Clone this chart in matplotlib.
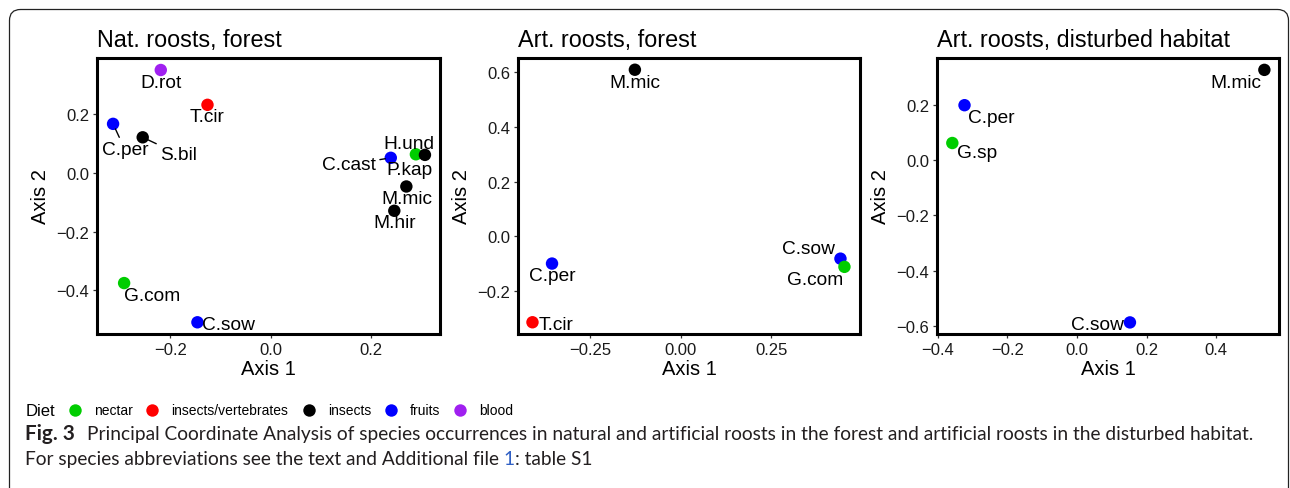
import matplotlib
matplotlib.use("Agg")
import matplotlib.pyplot as plt
from matplotlib.patches import FancyBboxPatch
from matplotlib.ticker import FuncFormatter

# ---------------- data ----------------
diet_levels = ["nectar", "insects/vertebrates", "insects", "fruits", "blood"]

p1_species = ["D.rot", "T.cir", "C.per", "S.bil", "C.cast", "H.und", "P.kap",
              "M.mic", "M.hir", "G.com", "C.sow"]
p1_x = [-0.219, -0.126, -0.314, -0.255, 0.239, 0.289, 0.307, 0.270, 0.246, -0.292, -0.146]
p1_y = [0.352, 0.233, 0.168, 0.122, 0.052, 0.064, 0.062, -0.046, -0.129, -0.376, -0.510]
p1_diet = ["blood", "insects/vertebrates", "fruits", "insects", "fruits", "nectar",
           "insects", "insects", "insects", "nectar", "fruits"]

p2_species = ["M.mic", "C.per", "T.cir", "C.sow", "G.com"]
p2_x = [-0.127, -0.356, -0.410, 0.441, 0.452]
p2_y = [0.610, -0.100, -0.315, -0.082, -0.112]
p2_diet = ["insects", "fruits", "insects/vertebrates", "fruits", "nectar"]

p3_species = ["M.mic", "C.per", "G.sp", "C.sow"]
p3_x = [0.538, -0.323, -0.358, 0.152]
p3_y = [0.327, 0.199, 0.062, -0.588]
p3_diet = ["insects", "fruits", "nectar", "fruits"]

titles = ["Nat. roosts, forest", "Art. roosts, forest", "Art. roosts, disturbed habitat"]
x_ticks = [[-0.2, 0.0, 0.2], [-0.25, 0.0, 0.25], [-0.4, -0.2, 0.0, 0.2, 0.4]]
y_ticks = [[-0.4, -0.2, 0.0, 0.2], [-0.2, 0.0, 0.2, 0.4, 0.6], [-0.6, -0.4, -0.2, 0.0, 0.2]]
x_fmt = ["%.1f", "%.2f", "%.1f"]

caption_bold = "Fig. 3"
caption_line1 = ("Principal Coordinate Analysis of species occurrences in natural and artificial "
                 "roosts in the forest and artificial roosts in the disturbed habitat.")
caption_line2 = ["For species abbreviations see the text and Additional file ", "1", ": table S1"]

# ---------------- styles ----------------
diet_colors = {"nectar": "#00CD00", "insects/vertebrates": "#FF0000", "insects": "#000000",
               "fruits": "#0000FF", "blood": "#A020F0"}

# label offsets in pixels (dx right, dy down) and whether a segment is drawn
p1_off = {"D.rot": (0, 12), "T.cir": (0, 12), "C.per": (12, 26, True), "S.bil": (36, 17, True),
          "C.cast": (-42, 7, True), "H.und": (-7, -11), "P.kap": (-15, 15),
          "M.mic": (1, 12), "M.hir": (0, 12), "G.com": (28, 12), "C.sow": (31, 2)}
p2_off = {"M.mic": (0, 12.5), "C.per": (0, 12), "T.cir": (24, 2), "C.sow": (-32, -10),
          "G.com": (-29, 12.5)}
p3_off = {"M.mic": (-28, 12.5), "C.per": (27, 12), "G.sp": (25, 9), "C.sow": (-33, 2)}

xlims = [(-0.346, 0.337), (-0.450, 0.495), (-0.402, 0.580)]
ylims = [(-0.550, 0.393), (-0.358, 0.653), (-0.630, 0.370)]

W, H = 1290, 489
DPI = 100
plt.rcParams["font.family"] = ["Liberation Sans", "DejaVu Sans"]


def minus_fmt(fmt):
    def f(v, pos):
        s = fmt % v
        if s.startswith("-") and float(s) == 0:
            s = s[1:]
        return s.replace("-", "\u2212")
    return FuncFormatter(f)


fig = plt.figure(figsize=(W / DPI, H / DPI), dpi=DPI)

# border around the figure
over = fig.add_axes([0, 0, 1, 1])
over.set_xlim(0, W)
over.set_ylim(H, 0)
over.axis("off")
over.add_patch(FancyBboxPatch((9.5, 10.5), 1279, 490, boxstyle="round,pad=0,rounding_size=11",
                              fill=False, ec="#222222", lw=0.9))

lefts = [97, 518, 937]
widths = [343, 342, 342]
top, bottom = 59, 335

panels = [(p1_species, p1_x, p1_y, p1_diet, p1_off),
          (p2_species, p2_x, p2_y, p2_diet, p2_off),
          (p3_species, p3_x, p3_y, p3_diet, p3_off)]

for i, (sp, xs, ys, ds, offs) in enumerate(panels):
    ax = fig.add_axes([lefts[i] / W, (H - bottom) / H, widths[i] / W, (bottom - top) / H])
    ax.scatter(xs, ys, c=[diet_colors[d] for d in ds], s=80, linewidths=0, zorder=3)
    for name, x, y in zip(sp, xs, ys):
        o = offs[name]
        seg = len(o) > 2 and o[2]
        kw = {}
        if seg:
            kw["arrowprops"] = dict(arrowstyle="-", color="black", lw=1.0,
                                    shrinkA=1, shrinkB=4)
        ax.annotate(name, (x, y), xytext=(o[0], -o[1]), textcoords="offset pixels",
                    ha="center", va="center", fontsize=13.8, color="black", zorder=4, **kw)
    ax.set_xlim(*xlims[i])
    ax.set_ylim(*ylims[i])
    ax.set_xticks(x_ticks[i])
    ax.set_yticks(y_ticks[i])
    ax.xaxis.set_major_formatter(minus_fmt(x_fmt[i]))
    ax.yaxis.set_major_formatter(minus_fmt("%.1f"))
    for s in ax.spines.values():
        s.set_linewidth(2.2)
        s.set_color("black")
    ax.tick_params(length=3, width=0.9, color="#333333", labelsize=12,
                   labelcolor="#1a1a1a", pad=2.5)
    ax.set_xlabel("Axis 1", fontsize=14.5, labelpad=2)
    ax.set_ylabel("Axis 2", fontsize=14.5, labelpad=4.5)
    ax.set_title(titles[i], loc="left", fontsize=16.8, pad=9)

# legend
over.text(26, 411, "Diet", fontsize=12, ha="left", va="center", color="black")
leg_dot_x = [75, 152, 309, 391, 460]
for lx, lvl in zip(leg_dot_x, diet_levels):
    over.scatter([lx], [411], s=80, c=diet_colors[lvl], linewidths=0)
    over.text(lx + 19, 411, lvl, fontsize=10, ha="left", va="center", color="black")

# caption
cap_font = ["Lato", "DejaVu Sans"]
cap_col = "#231F20"
fig.canvas.draw()
r = fig.canvas.get_renderer()
t1 = over.text(87, 440, caption_line1, fontsize=10.5, family=cap_font, color=cap_col,
               ha="left", va="baseline")
bb = t1.get_window_extent(r)
fs = 10.5 * (1265 - 87) / bb.width
t1.set_fontsize(fs)
tb = over.text(25, 440, caption_bold, fontsize=fs, family=cap_font, weight="bold",
               color=cap_col, ha="left", va="baseline")
bbb = tb.get_window_extent(r)
tb.set_fontsize(fs * 50 / bbb.width)
xcur = 25
cols = [cap_col, "#2F5FC4", cap_col]
for piece, col in zip(caption_line2, cols):
    t = over.text(xcur, 465, piece, fontsize=fs, family=cap_font, color=col,
                  ha="left", va="baseline")
    fig.canvas.draw()
    e = t.get_window_extent(fig.canvas.get_renderer())
    xcur += e.width

fig.savefig("out.png", dpi=DPI)
